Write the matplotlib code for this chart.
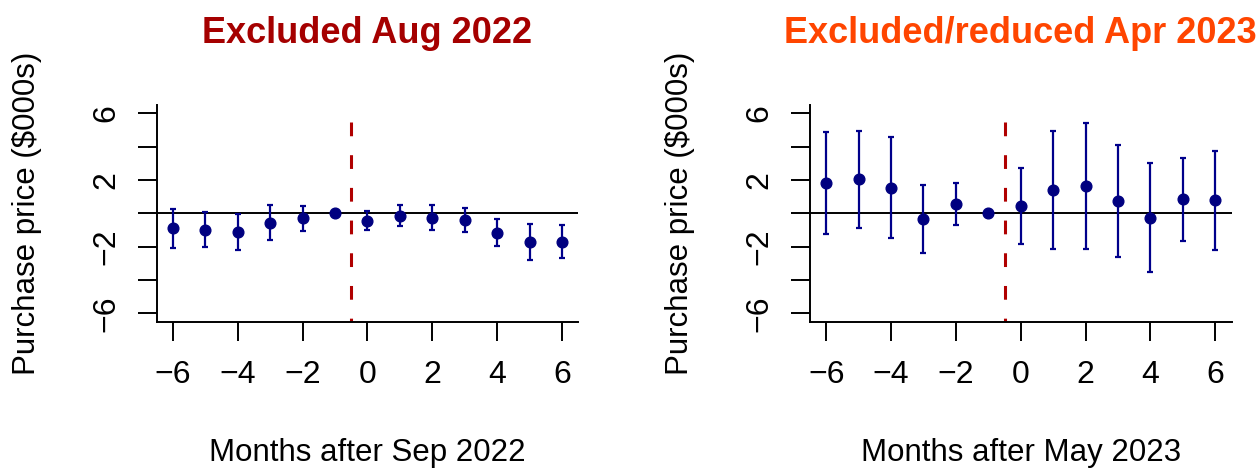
import matplotlib
matplotlib.use('Agg')
from matplotlib import pyplot as plt

# event-study estimates, months relative to the change
months = [-6, -5, -4, -3, -2, -1, 0, 1, 2, 3, 4, 5, 6]

# Excluded Aug 2022 (months after Sep 2022)
est1 = [-0.90, -1.00, -1.12, -0.56, -0.30, 0.0, -0.46, -0.14, -0.26, -0.42, -1.16, -1.72, -1.70]
lo1 = [-2.06, -2.02, -2.20, -1.58, -1.08, 0.0, -1.00, -0.76, -1.00, -1.14, -1.96, -2.80, -2.66]
hi1 = [0.28, 0.06, -0.02, 0.48, 0.46, 0.0, 0.12, 0.52, 0.50, 0.32, -0.32, -0.62, -0.72]

# Excluded/reduced Apr 2023 (months after May 2023)
est2 = [1.82, 2.06, 1.54, -0.34, 0.56, 0.0, 0.42, 1.42, 1.62, 0.76, -0.26, 0.84, 0.78]
lo2 = [-1.24, -0.88, -1.46, -2.38, -0.70, 0.0, -1.84, -2.12, -2.12, -2.60, -3.50, -1.68, -2.20]
hi2 = [4.86, 4.96, 4.56, 1.68, 1.80, 0.0, 2.70, 4.96, 5.40, 4.12, 3.04, 3.34, 3.74]

titles = ["Excluded Aug 2022", "Excluded/reduced Apr 2023"]
title_colors = ["#A50000", "#FF4500"]
xlabels = ["Months after Sep 2022", "Months after May 2023"]
ylabel = "Purchase price ($000s)"

xticks = [-6, -4, -2, 0, 2, 4, 6]
yticks = [-6, -4, -2, 0, 2, 4, 6]
yticklabels = ["\u22126", "", "\u22122", "", "2", "", "6"]
xticklabels = ["\u22126", "\u22124", "\u22122", "0", "2", "4", "6"]

plt.rcParams['font.family'] = ['Liberation Sans', 'DejaVu Sans']

fig = plt.figure(figsize=(12.6, 4.7), dpi=100)
lefts = [156.7 / 1260, 810 / 1260]
W = 421.5 / 1260
B = 1 - 321.7 / 470
H = 216.7 / 470

panels = [(est1, lo1, hi1), (est2, lo2, hi2)]
for i, (est, lo, hi) in enumerate(panels):
    ax = fig.add_axes([lefts[i], B, W, H])
    yerr = [[e - l for e, l in zip(est, lo)], [h - e for e, h in zip(est, hi)]]

    ax.axhline(0, color='black', lw=1.4, zorder=1)
    ax.plot([-0.5, -0.5], [5.5, -6.5], color='#B00000', lw=2.2,
            linestyle=(0, (4.5, 6.2)), dash_capstyle='butt', zorder=2)
    ax.errorbar(months, est, yerr=yerr, fmt='o', color='#000080', ms=7.7,
                ecolor='#00008B', elinewidth=1.6, capsize=2.3, capthick=1.6, zorder=3)

    ax.set_xlim(-6.5, 6.5)
    ax.set_ylim(-6.5, 6.5)
    ax.spines['top'].set_visible(False)
    ax.spines['right'].set_visible(False)
    for s in ['left', 'bottom']:
        ax.spines[s].set_linewidth(1.4)

    ax.set_xticks(xticks)
    ax.set_xticklabels(xticklabels)
    ax.set_yticks(yticks)
    ax.set_yticklabels(yticklabels, rotation=90, va='center')
    ax.tick_params(axis='both', direction='out', length=13.5, width=1.4, labelsize=23)
    ax.tick_params(axis='x', pad=14)
    ax.tick_params(axis='y', pad=12)

    ax.set_xlabel(xlabels[i], fontsize=22.5)
    ax.xaxis.set_label_coords(0.5, -0.606)
    ax.xaxis.label.set_va('center')
    ax.set_ylabel(ylabel, fontsize=22.5, va='center')
    ax.yaxis.set_label_coords(-0.308, 0.5)

    ax.text(0.5, 1.33, titles[i], transform=ax.transAxes, ha='center', va='center',
            fontsize=26, fontweight='bold', color=title_colors[i])

fig.savefig('out.png', dpi=100)
